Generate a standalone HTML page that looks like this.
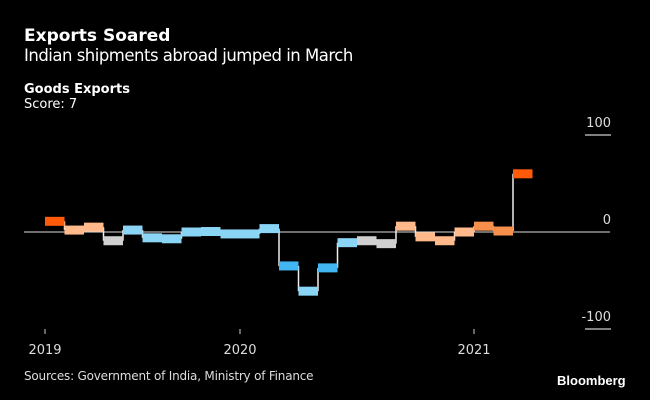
<!DOCTYPE html>
<html><head><meta charset="utf-8"><style>
html,body{margin:0;padding:0;background:#000;}
body{width:650px;height:400px;overflow:hidden;position:relative;font-family:"DejaVu Sans","Liberation Sans",sans-serif;color:#fff;}
.t{position:absolute;white-space:nowrap;}
</style></head><body>
<div class="t" style="left:24px;top:26px;font-size:17px;font-weight:bold;">Exports Soared</div>
<div class="t" style="left:24px;top:46px;font-size:16.5px;letter-spacing:-0.5px;">Indian shipments abroad jumped in March</div>
<div class="t" style="left:24px;top:82px;font-size:13px;font-weight:bold;">Goods Exports</div>
<div class="t" style="left:24px;top:97px;font-size:13px;">Score: 7</div>
<div class="t" style="left:24px;top:369px;font-size:12px;letter-spacing:-0.2px;color:#ddd;">Sources: Government of India, Ministry of Finance</div>
<div class="t" style="left:557px;top:373px;font-size:13px;font-weight:bold;font-family:'Liberation Sans',sans-serif;">Bloomberg</div>
<svg id="chart" width="650" height="400" style="position:absolute;left:0;top:0;"></svg>
<script>
const values=[11,2,5,-9,2,-6,-7,0,0.5,-2,-2,3.5,-35,-61,-37,-11,-9,-12,6,-5,-9,0,6,1,60];
const colors=["#ff5a0a","#ffb98a","#ffb98a","#d0d0d0","#8ad4f5","#8ad4f5","#8ad4f5","#8ad4f5","#8ad4f5","#8ad4f5","#8ad4f5","#8ad4f5","#41b6f0","#8ad4f5","#41b6f0","#8ad4f5","#d0d0d0","#d0d0d0","#ffb98a","#ffb98a","#ffb98a","#ffb98a","#f7904c","#f7904c","#ff5a0a"];
const yTicks=[100,0,-100];
const xTickLabels=["2019","2020","2021"];
const xTickIndex=[0,10,22];
const NS="http://www.w3.org/2000/svg";
const svg=document.getElementById('chart');
const x=i=>45+19.5*i;
const y=v=>232-0.97*v;
function mk(tag,attrs){const e=document.createElementNS(NS,tag);for(const k in attrs)e.setAttribute(k,attrs[k]);svg.appendChild(e);return e;}
let z=mk('line',{x1:24,x2:610,y1:y(0),y2:y(0),stroke:'#ddd','stroke-width':1});


yTicks.forEach(v=>{
  if(v!==0){const g=mk('line',{x1:585,x2:611,y1:y(v),y2:y(v),stroke:'#ccc','stroke-width':1.2});
  
  }
  const t=mk('text',{x:611,y:y(v)-8,'text-anchor':'end',fill:'#ddd','font-size':13,'font-family':'DejaVu Sans,sans-serif'});
  t.textContent=String(v);
  
  
});
xTickIndex.forEach((idx,k)=>{
  const l=mk('line',{x1:x(idx),x2:x(idx),y1:329,y2:334,stroke:'#ccc','stroke-width':1});
  
  
  const t=mk('text',{x:x(idx),y:354,'text-anchor':'middle',fill:'#ddd','font-size':13,'font-family':'DejaVu Sans,sans-serif'});
  t.textContent=xTickLabels[k];
  
  
});
for(let i=1;i<values.length;i++){
  const c=mk('line',{x1:x(i),x2:x(i),y1:y(values[i-1]),y2:y(values[i]),stroke:'#eee','stroke-width':1.5});
  
  
}
values.forEach((v,i)=>{
  const r=mk('rect',{x:x(i),y:y(v)-4.5,width:19.5,height:9,fill:colors[i]});
  
  
});
</script>
</body></html>
